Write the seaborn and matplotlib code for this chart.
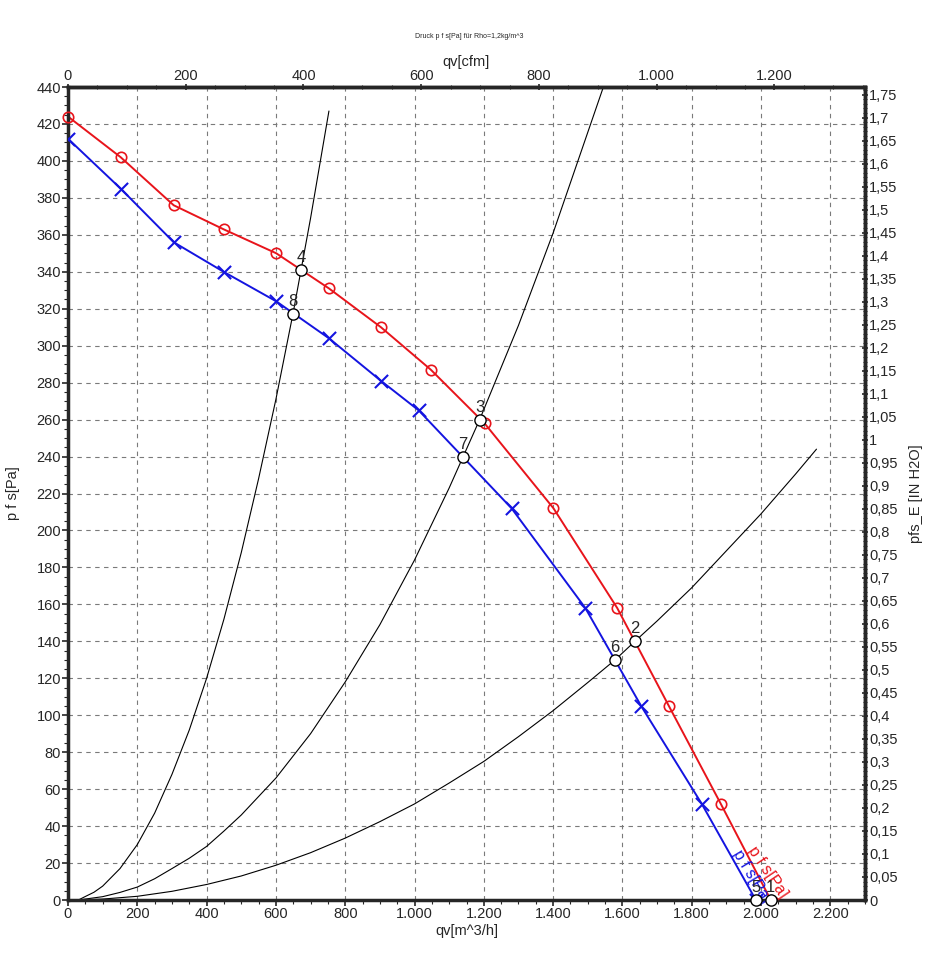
import matplotlib
matplotlib.use("Agg")
import matplotlib.pyplot as plt
from matplotlib.ticker import MultipleLocator, FuncFormatter
import seaborn as sns
import pandas as pd

# fan curve p f s [Pa] over qv [m^3/h]
qv_red = [0, 152, 305, 449, 601, 753, 903, 1047, 1202, 1401, 1585, 1734, 1884, 2028]
p_red = [424, 402, 376, 363, 350, 331, 310, 287, 258, 212, 158, 105, 52, 0]

qv_blue = [0, 152, 305, 449, 601, 753, 903, 1012, 1280, 1493, 1654, 1829, 1985]
p_blue = [412, 385, 356, 340, 324, 304, 281, 265, 212, 158, 105, 52, 0]

# system curves
sys1_qv = [30, 50, 75, 100, 150, 200, 250, 300, 350, 400, 450, 500, 550, 600, 650, 700, 753]
sys1_p = [0, 1.9, 4.2, 7.5, 17, 30, 47, 68, 92, 120, 152, 188, 228, 271, 318, 369, 427]
sys2_qv = [30, 100, 150, 200, 250, 300, 350, 400, 450, 500, 600, 700, 800, 900, 1000,
           1100, 1188, 1300, 1400, 1545]
sys2_p = [0, 1.8, 4.1, 7, 11.5, 17, 22.6, 29, 37.3, 46, 66, 90, 118, 149, 184,
          223, 260, 311, 361, 440]
sys3_qv = [30, 100, 200, 300, 400, 500, 600, 700, 800, 900, 1000, 1100, 1200, 1300,
           1400, 1500, 1579, 1636, 1700, 1800, 1900, 2000, 2100, 2160]
sys3_p = [0, 0.5, 2, 4.7, 8.4, 13, 18.8, 25.6, 33.5, 42.4, 52, 63.3, 75, 88.4,
          102.5, 117.7, 130, 140, 151, 169, 189, 209, 230.6, 244]

# operating points
op_labels = ["1", "2", "3", "4", "5", "6", "7", "8"]
op_qv = [2028, 1636, 1188, 673, 1985, 1579, 1139, 650]
op_p = [0, 140, 260, 341, 0, 130, 240, 317]

sns.set_style("ticks")
plt.rcParams["font.family"] = ["Liberation Sans", "DejaVu Sans"]


def de_fmt(v, pos=None):
    if abs(v - round(v)) < 1e-9:
        return f"{int(round(v)):,}".replace(",", ".")
    s = f"{v:.2f}".rstrip("0")
    return s.replace(".", ",")


fig = plt.figure(figsize=(9.41, 9.80), dpi=100)
ax = fig.add_axes([68 / 941, 80 / 980, 797 / 941, 813 / 980])

for xs, ys in [(sys1_qv, sys1_p), (sys2_qv, sys2_p), (sys3_qv, sys3_p)]:
    sns.lineplot(x=xs, y=ys, sort=False, color="black", lw=0.8, ax=ax)

sns.lineplot(x=qv_red, y=p_red, sort=False, color="#e8141b", lw=1.4, ax=ax)
sns.lineplot(x=qv_blue, y=p_blue, sort=False, color="#1414e0", lw=1.4, ax=ax)

red_pts = pd.DataFrame({"qv": qv_red[:-1], "p": p_red[:-1]})
ax.plot(red_pts["qv"], red_pts["p"], ls="none", marker="o", ms=7.5,
        mfc="none", mec="#e8141b", mew=1.2, clip_on=False, zorder=4)
blue_pts = pd.DataFrame({"qv": qv_blue, "p": p_blue})
sns.scatterplot(data=blue_pts, x="qv", y="p", marker="x", s=90,
                color="#1414e0", linewidth=1.5, ax=ax, zorder=4)

ops = pd.DataFrame({"qv": op_qv, "p": op_p, "label": op_labels})
sns.scatterplot(data=ops, x="qv", y="p", s=65, color="white",
                edgecolor="black", linewidth=1.0, ax=ax, zorder=6, clip_on=False)
for _, r in ops.iterrows():
    ax.annotate(r["label"], (r["qv"], r["p"]), xytext=(0, 3.5),
                textcoords="offset points", ha="center", va="bottom",
                fontsize=12, zorder=7)

ax.text(2019, 15, "p f s[Pa]", color="#e8141b", fontsize=11.5, rotation=-56,
        ha="center", va="center", rotation_mode="anchor", clip_on=False)
ax.text(1973, 13, "p f s[Pa]", color="#1414e0", fontsize=11.5, rotation=-59,
        ha="center", va="center", rotation_mode="anchor", clip_on=False)

ax.set_xlim(0, 2300)
ax.set_ylim(0, 440)
ax.xaxis.set_major_locator(MultipleLocator(200))
ax.xaxis.set_minor_locator(MultipleLocator(50))
ax.yaxis.set_major_locator(MultipleLocator(20))
ax.yaxis.set_minor_locator(MultipleLocator(5))
ax.xaxis.set_major_formatter(FuncFormatter(de_fmt))
ax.yaxis.set_major_formatter(FuncFormatter(de_fmt))
ax.grid(True, which="major", ls=(0, (4, 4)), color="#7a7a7a", lw=0.8)
ax.tick_params(which="major", length=4, width=1.2, labelsize=10.5, pad=1)
ax.tick_params(which="minor", length=3, width=0.8)
for sp in ax.spines.values():
    sp.set_linewidth(2.5)
ax.set_xlabel("qv[m^3/h]", fontsize=10.5, labelpad=2)
ax.set_ylabel("p f s[Pa]", fontsize=10.5, labelpad=12)

top = ax.secondary_xaxis("top", functions=(lambda q: q * 0.588578, lambda c: c / 0.588578))
top.xaxis.set_major_locator(MultipleLocator(200))
top.xaxis.set_minor_locator(MultipleLocator(50))
top.xaxis.set_major_formatter(FuncFormatter(de_fmt))
top.tick_params(which="major", direction="inout", length=4, width=1.2, labelsize=10.5, pad=1)
top.tick_params(which="minor", direction="inout", length=3, width=0.8)
top.spines["top"].set_linewidth(2.5)
top.set_xlabel("qv[cfm]", fontsize=10.5, labelpad=2)

right = ax.secondary_yaxis("right", functions=(lambda p: p / 249.089, lambda h: h * 249.089))
right.yaxis.set_major_locator(MultipleLocator(0.05))
right.yaxis.set_minor_locator(MultipleLocator(0.01))
right.yaxis.set_major_formatter(FuncFormatter(de_fmt))
right.tick_params(which="major", direction="inout", length=4, width=1.2, labelsize=10.5, pad=1)
right.tick_params(which="minor", direction="inout", length=3, width=0.8)
right.spines["right"].set_linewidth(2.5)
right.set_ylabel("pfs_E [IN H2O]", fontsize=10.5, labelpad=8)

fig.text(469 / 941, 1 - 37 / 980, "Druck p f s[Pa] für Rho=1,2kg/m^3",
         ha="center", va="center", fontsize=5)

plt.savefig("out.png", dpi=100)
